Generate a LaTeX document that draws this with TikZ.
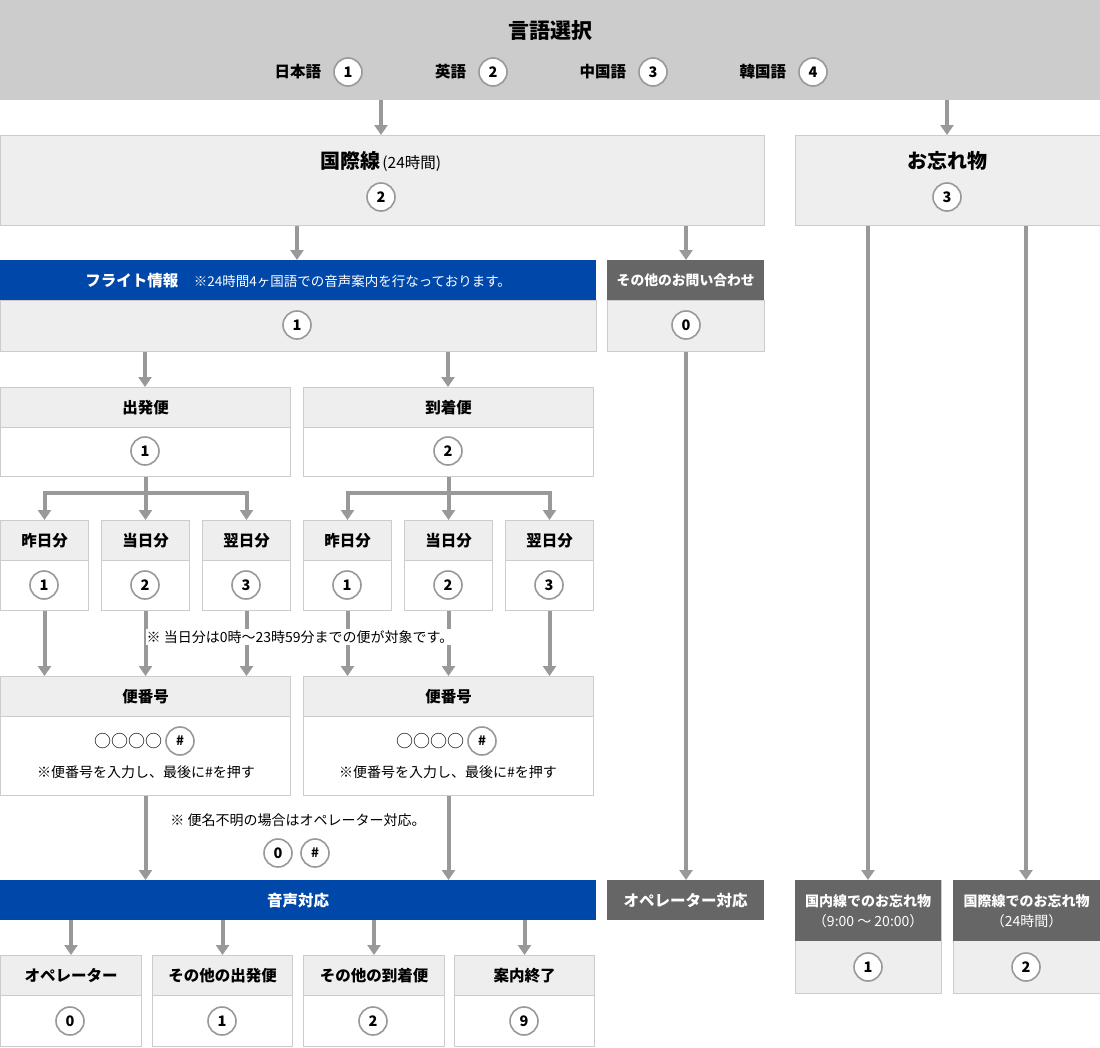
\documentclass[tikz,border=0pt]{standalone}
\usepackage{fontspec}
\setmainfont{Noto Sans CJK JP}
\usetikzlibrary{arrows.meta,positioning}
\definecolor{topgray}{HTML}{CCCCCC}
\definecolor{hdgray}{HTML}{EEEEEE}
\definecolor{boxline}{HTML}{CCCCCC}
\definecolor{flblue}{HTML}{0047AA}
\definecolor{dkgray}{HTML}{666666}
\definecolor{arrgray}{HTML}{999999}
\tikzset{
  box/.style={draw=boxline,line width=1pt,fill=white,anchor=north west,inner sep=0pt},
  hd/.style={draw=boxline,line width=1pt,fill=hdgray,anchor=north west,inner sep=0pt,font=\bfseries\fontsize{15.5}{17}\selectfont},
  bluehd/.style={fill=flblue,anchor=north west,inner sep=0pt,text=white,font=\bfseries\fontsize{15.5}{17}\selectfont},
  darkhd/.style={fill=dkgray,anchor=north west,inner sep=0pt,text=white,align=center,font=\bfseries\fontsize{14}{20}\selectfont},
  num/.style={circle,draw=arrgray,line width=1.6pt,fill=white,minimum size=28pt,inner sep=0pt,font=\bfseries\fontsize{14.5}{14.5}\selectfont},
  arr/.style={draw=arrgray,line width=4pt,-{Triangle[width=13pt,length=10pt]}},
  note/.style={fill=white,inner sep=1pt,font=\fontsize{14}{16}\selectfont},
}
\begin{document}
\begin{tikzpicture}[x=1pt,y=-1pt,line join=miter]
\useasboundingbox (0,0) rectangle (1100,1047);
% language selection
\node[fill=topgray,anchor=north west,minimum width=1100pt,minimum height=100pt,inner sep=0pt] (lang) at (0,0) {};
\node[font=\bfseries\fontsize{21}{22}\selectfont] (langt) at (550,31) {言語選択};
\node[num] (l1) at (348,72) {1};
\node[num] (l2) at (493,72) {2};
\node[num] (l3) at (653,72) {3};
\node[num] (l4) at (813,72) {4};
\node[font=\bfseries\fontsize{15.5}{17}\selectfont,left=12pt of l1,inner sep=0pt] (l1t) {日本語};
\node[font=\bfseries\fontsize{15.5}{17}\selectfont,left=12pt of l2,inner sep=0pt] (l2t) {英語};
\node[font=\bfseries\fontsize{15.5}{17}\selectfont,left=12pt of l3,inner sep=0pt] (l3t) {中国語};
\node[font=\bfseries\fontsize{15.5}{17}\selectfont,left=12pt of l4,inner sep=0pt] (l4t) {韓国語};

% second level
\node[hd,minimum width=764pt,minimum height=90pt] (intl) at (0,135) {};
\node (intlt) at (381,161) {{\bfseries\fontsize{20}{22}\selectfont 国際線}\,{\fontsize{15.5}{17}\selectfont (24時間)}};
\node[num] (intln) at (381,197) {2};
\node[hd,minimum width=305pt,minimum height=90pt] (lost) at (795,135) {};
\node[font=\bfseries\fontsize{20}{22}\selectfont] (lostt) at (947,161) {お忘れ物};
\node[num] (lostn) at (947,197) {3};
\draw[arr] (lang.south -| intln) -- (intl.north -| intln);
\draw[arr] (lang.south -| lostn) -- (lost.north -| lostn);

% flight info / other
\node[bluehd,minimum width=596pt,minimum height=40pt] (fih) at (0,260) {フライト情報\quad{\mdseries\fontsize{13.5}{15}\selectfont ※24時間4ヶ国語での音声案内を行なっております。}};
\node[hd,minimum width=596pt,minimum height=51pt] (fib) at (0,300) {};
\node[num] (fin) at (297,325) {1};
\node[darkhd,minimum width=157pt,minimum height=40pt,font=\bfseries\fontsize{13.8}{16}\selectfont] (othh) at (607,260) {その他のお問い合わせ};
\node[hd,minimum width=157pt,minimum height=51pt] (othb) at (607,300) {};
\node[num] (othn) at (686,325) {0};
\draw[arr] (intl.south -| fin) -- (fih.north -| fin);
\draw[arr] (intl.south -| othn) -- (othh.north -| othn);

% departure / arrival
\node[box,minimum width=290pt,minimum height=89pt] (depb) at (0,387) {};
\node[hd,minimum width=290pt,minimum height=40pt] (deph) at (0,387) {出発便};
\node[num] (depn) at (145,451) {1};
\node[box,minimum width=290pt,minimum height=89pt] (arvb) at (303,387) {};
\node[hd,minimum width=290pt,minimum height=40pt] (arvh) at (303,387) {到着便};
\node[num] (arvn) at (448,451) {2};
\draw[arr] (fib.south -| depn) -- (deph.north -| depn);
\draw[arr] (fib.south -| arvn) -- (arvh.north -| arvn);

% day boxes
\node[box,minimum width=88pt,minimum height=90pt] (dy1b) at (0,520) {};
\node[hd,minimum width=88pt,minimum height=40pt] (dy1h) at (0,520) {昨日分};
\node[num] (dy1n) at (44,585) {1};
\node[box,minimum width=88pt,minimum height=90pt] (dt1b) at (101,520) {};
\node[hd,minimum width=88pt,minimum height=40pt] (dt1h) at (101,520) {当日分};
\node[num] (dt1n) at (145,585) {2};
\node[box,minimum width=88pt,minimum height=90pt] (dn1b) at (202,520) {};
\node[hd,minimum width=88pt,minimum height=40pt] (dn1h) at (202,520) {翌日分};
\node[num] (dn1n) at (246,585) {3};
\node[box,minimum width=88pt,minimum height=90pt] (dy2b) at (303,520) {};
\node[hd,minimum width=88pt,minimum height=40pt] (dy2h) at (303,520) {昨日分};
\node[num] (dy2n) at (347,585) {1};
\node[box,minimum width=88pt,minimum height=90pt] (dt2b) at (404,520) {};
\node[hd,minimum width=88pt,minimum height=40pt] (dt2h) at (404,520) {当日分};
\node[num] (dt2n) at (448,585) {2};
\node[box,minimum width=88pt,minimum height=90pt] (dn2b) at (505,520) {};
\node[hd,minimum width=88pt,minimum height=40pt] (dn2h) at (505,520) {翌日分};
\node[num] (dn2n) at (549,585) {3};
\draw[arr] (depb.south) -- ++(0,16) -| (dy1h.north);
\draw[arr] (depb.south) -- ++(0,16) -| (dn1h.north);
\draw[arr] (depb.south) -- (dt1h.north);
\draw[arr] (arvb.south) -- ++(0,16) -| (dy2h.north);
\draw[arr] (arvb.south) -- ++(0,16) -| (dn2h.north);
\draw[arr] (arvb.south) -- (dt2h.north);

% flight number
\node[box,minimum width=290pt,minimum height=119pt] (fn1b) at (0,676) {};
\node[hd,minimum width=290pt,minimum height=40pt] (fn1h) at (0,676) {便番号};
\node[num,font=\bfseries\fontsize{13}{13}\selectfont] (fn1n) at (180,741) {\#};
\node[left=3pt of fn1n,inner sep=0pt,font=\fontsize{17}{18}\selectfont] (fn1o) {○○○○};
\node[font=\fontsize{14}{16}\selectfont] (fn1t) at (146,772) {※便番号を入力し、最後に\#を押す};
\node[box,minimum width=290pt,minimum height=119pt] (fn2b) at (303,676) {};
\node[hd,minimum width=290pt,minimum height=40pt] (fn2h) at (303,676) {便番号};
\node[num,font=\bfseries\fontsize{13}{13}\selectfont] (fn2n) at (482,741) {\#};
\node[left=3pt of fn2n,inner sep=0pt,font=\fontsize{17}{18}\selectfont] (fn2o) {○○○○};
\node[font=\fontsize{14}{16}\selectfont] (fn2t) at (448,772) {※便番号を入力し、最後に\#を押す};
\draw[arr] (dy1b.south) -- (fn1h.north -| dy1b.south);
\draw[arr] (dt1b.south) -- (fn1h.north -| dt1b.south);
\draw[arr] (dn1b.south) -- (fn1h.north -| dn1b.south);
\draw[arr] (dy2b.south) -- (fn2h.north -| dy2b.south);
\draw[arr] (dt2b.south) -- (fn2h.north -| dt2b.south);
\draw[arr] (dn2b.south) -- (fn2h.north -| dn2b.south);
\node[note] (daynote) at (300,637) {※ 当日分は0時〜23時59分までの便が対象です。};

% voice
\node[bluehd,minimum width=596pt,minimum height=40pt] (voice) at (0,880) {音声対応};
\node[darkhd,minimum width=157pt,minimum height=40pt,font=\bfseries\fontsize{15.5}{17}\selectfont] (opr) at (607,880) {オペレーター対応};
\draw[arr] (fn1b.south) -- (voice.north -| fn1b.south);
\draw[arr] (fn2b.south) -- (voice.north -| fn2b.south);
\draw[arr] (othb.south -| othn) -- (opr.north -| othn);
\node[note] (unknote) at (298,820) {※ 便名不明の場合はオペレーター対応。};
\node[num] (unk0) at (278,853) {0};
\node[num,font=\bfseries\fontsize{13}{13}\selectfont] (unkh) at (315,853) {\#};

% last row
\node[box,minimum width=141pt,minimum height=91pt] (opb) at (0,955) {};
\node[hd,minimum width=141pt,minimum height=40pt] (oph) at (0,955) {オペレーター};
\node[num] (opn) at (70,1021) {0};
\node[box,minimum width=140pt,minimum height=91pt] (odb) at (152,955) {};
\node[hd,minimum width=140pt,minimum height=40pt] (odh) at (152,955) {その他の出発便};
\node[num] (odn) at (222,1021) {1};
\node[box,minimum width=141pt,minimum height=91pt] (oab) at (303,955) {};
\node[hd,minimum width=141pt,minimum height=40pt] (oah) at (303,955) {その他の到着便};
\node[num] (oan) at (373,1021) {2};
\node[box,minimum width=140pt,minimum height=91pt] (endb) at (454,955) {};
\node[hd,minimum width=140pt,minimum height=40pt] (endh) at (454,955) {案内終了};
\node[num] (endn) at (524,1021) {9};
\draw[arr] (voice.south -| oph.north) -- (oph.north);
\draw[arr] (voice.south -| odh.north) -- (odh.north);
\draw[arr] (voice.south -| oah.north) -- (oah.north);
\draw[arr] (voice.south -| endh.north) -- (endh.north);

% lost items
\node[hd,minimum width=146pt,minimum height=113pt] (lf1b) at (795,880) {};
\node[darkhd,minimum width=146pt,minimum height=61pt] (lf1h) at (795,880) {国内線でのお忘れ物\\{\mdseries（9:00 〜 20:00）}};
\node[num] (lf1n) at (868,967) {1};
\node[hd,minimum width=147pt,minimum height=113pt] (lf2b) at (953,880) {};
\node[darkhd,minimum width=147pt,minimum height=61pt] (lf2h) at (953,880) {国際線でのお忘れ物\\{\mdseries（24時間）}};
\node[num] (lf2n) at (1026,967) {2};
\draw[arr] (lost.south -| lf1n) -- (lf1h.north -| lf1n);
\draw[arr] (lost.south -| lf2n) -- (lf2h.north -| lf2n);
\end{tikzpicture}
\end{document}
